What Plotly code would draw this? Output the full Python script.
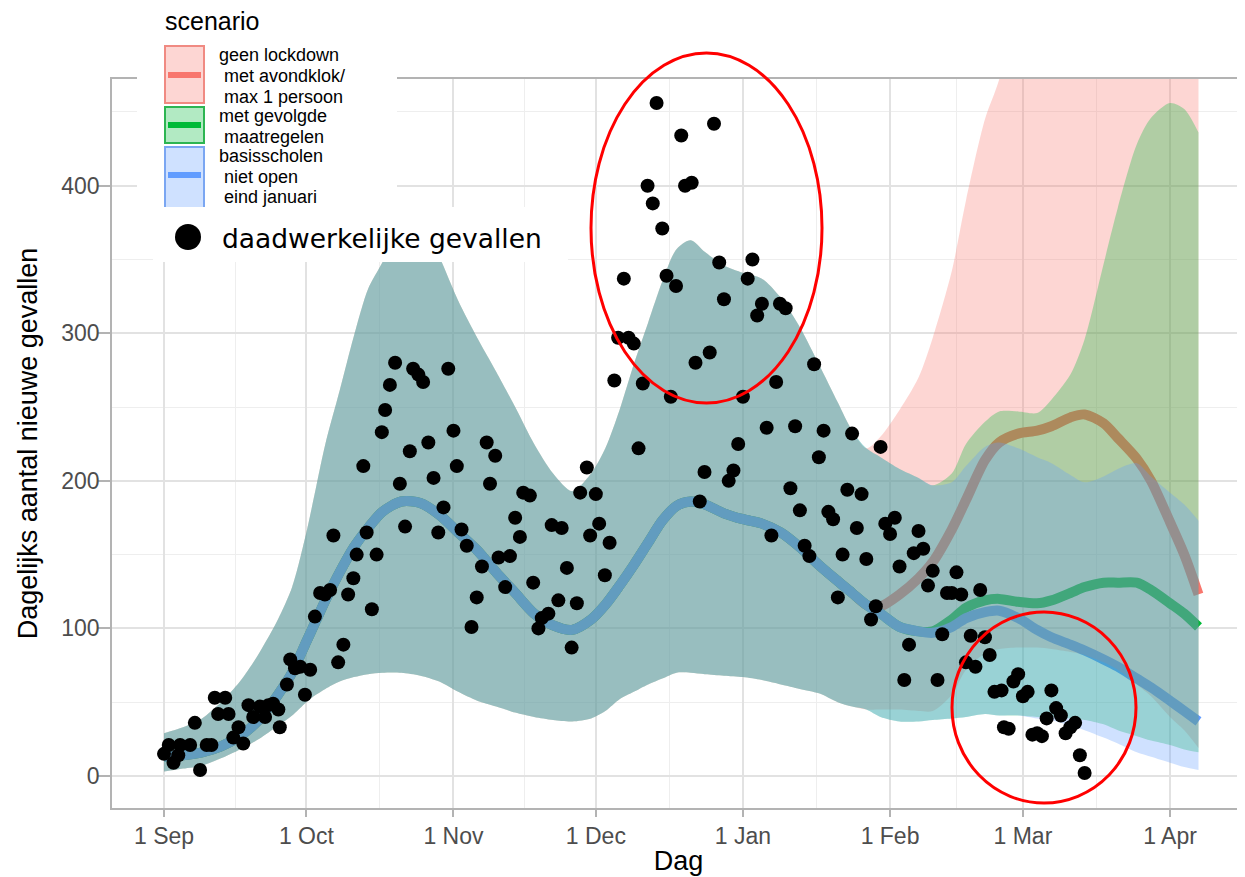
import pandas as pd
import plotly.graph_objects as go

START = pd.Timestamp("2020-09-01")

# ---------------- data (days since 1 Sep 2020) ----------------
# observed daily cases
punt_dag = [0, 1, 2, 3, 3.4, 5.5, 6.5, 7.6, 9, 10, 10.7, 11.4, 12.9, 13.6, 14.6, 15.7, 16.7, 17.8, 18.8, 20.2,
            21.3, 22, 23, 24.1, 24.4, 25.9, 26.6, 27.6, 28.7, 29.7, 30.8, 31.8, 32.9, 33.9, 35, 35.7, 36.7, 37.8,
            38.8, 39.9, 40.6, 42, 42.7, 43.8, 44.8, 45.9, 46.6, 47.6, 48.7, 49.7, 50.8, 51.8, 52.5, 53.6, 54.6,
            55.7, 56.8, 57.8, 58.9, 59.9, 61, 61.7, 62.7, 63.8, 64.8, 65.9, 67, 68, 68.7, 69.8, 70.5, 71.9, 72.9,
            74, 75, 75.7, 77.1, 77.8, 78.9, 79.6, 81, 81.7, 83.1, 83.8, 84.9, 85.9, 87, 87.7, 89.1, 89.8, 91, 91.7,
            92.9, 93.9, 94.9, 95.7, 96.9, 97.9, 99, 100, 100.9, 101.9, 103, 103.8, 105, 105.9, 106.8, 107.9, 109,
            109.8, 111.2, 112, 112.9, 113.9, 115, 115.9, 117, 118, 119, 120, 121, 122, 123, 124, 125, 126, 127,
            128, 129, 129.8, 131, 132, 133, 134, 135, 136, 137, 138, 139, 140, 141, 142, 143, 144, 145, 146, 147,
            148, 149, 150, 151, 152, 153, 154, 155, 156, 157, 158, 159, 160, 161, 162, 163, 164, 165, 166, 167,
            168, 169, 170, 171, 172, 173, 174, 175, 176.5, 177, 178, 179, 180, 181, 182, 183, 184, 185, 186, 187,
            188, 189, 190, 191, 192, 193, 194]
punt_gevallen = [15, 21, 9, 14, 21, 21, 36, 4, 21, 21, 53, 42, 53, 42, 26, 33, 22, 48, 40, 47,
                 40, 48, 49, 45, 33, 62, 79, 73, 74, 55, 72, 108, 124, 123, 126, 163, 77, 89,
                 123, 134, 150, 210, 165, 113, 150, 233, 248, 265, 280, 198, 169, 220, 276, 272, 267,
                 226, 202, 165, 182, 276, 234, 210, 167, 156, 101, 121, 142, 226, 198, 217, 148, 128, 149,
                 175, 162, 192, 190, 131, 100, 107, 110, 170, 119, 168, 141, 87, 117, 192, 209, 163, 191, 171,
                 136, 158, 268, 297, 337, 297, 293, 222, 266, 400, 388, 456, 371, 339, 257, 332, 434,
                 400, 402, 280, 186, 206, 287, 442, 348, 323, 200, 207, 225, 257, 337, 350, 312, 320, 236,
                 163, 267, 320, 317, 195, 237, 180, 156, 149, 279, 216, 234, 179, 174, 121, 150, 194, 232, 168, 191,
                 147, 106, 115, 223, 171, 164, 175, 142, 65, 89, 151, 166, 154, 129, 139, 65, 96, 124, 124, 138,
                 123, 77, 95, 74, 126, 94, 82, 57, 58, 33, 32, 64, 69, 54, 57, 28, 29, 27, 39, 58,
                 46, 41, 29, 33, 36, 14, 2]

# common model history (all scenarios identical)
hist_dag = [0, 4, 8, 12, 16, 20, 24, 27, 30, 32, 34, 37, 40, 43, 46, 50, 54, 58, 62, 66, 70, 74, 78, 82, 86,
            90, 93, 96, 99, 102, 105, 108, 111, 114, 118, 122, 126, 130, 134, 138, 142, 145, 148]
hist_mid = [13, 14, 16, 20, 27, 38, 55, 70, 91, 105, 119, 138, 155, 168, 179, 186, 185, 177, 165, 153, 138,
            124, 110, 102, 99, 106, 116, 129, 143, 158, 173, 183, 186, 184, 178, 174, 171, 165, 155, 143, 132,
            124, 116]
hist_lo = [3, 5, 7, 12, 18, 25, 34, 41, 50, 55, 59, 64, 67, 69, 70, 70, 68, 64, 57, 51, 47, 43, 40, 38, 37,
           39, 44, 52, 57, 62, 66, 70, 70, 69, 68, 67, 65, 62, 59, 56, 50, 47, 45]
hist_hi = [29, 33, 39, 50, 64, 83, 106, 128, 165, 195, 225, 261, 298, 330, 348, 374, 378, 352, 322, 297, 274,
           250, 225, 205, 193, 205, 222, 248, 279, 307, 335, 357, 363, 355, 346, 341, 337, 324, 304, 279, 253,
           234, 222]

# scenario projections
proj_dag = [151, 155, 159, 162, 166, 169, 173, 176, 180, 184, 187, 191, 194, 198, 201, 205, 208, 212, 215, 218]

scenario_namen = ["geen lockdown\n met avondklok/\n max 1 persoon",
                  "met gevolgde\n maatregelen",
                  "basisscholen\n niet open\n eind januari"]

rood_mid = [115, 123, 134, 145, 167, 187, 214, 226, 232, 234, 237, 243, 245, 239, 229, 215, 200, 172, 150, 123]
rood_lo = [45, 45, 44, 44, 55, 72, 83, 86, 87, 87, 86, 84, 82, 77, 72, 62, 54, 40, 31, 19]
rood_hi = [230, 248, 270, 297, 342, 390, 445, 472, 530, 600, 660, 730, 780, 830, 860, 880, 890, 890, 880, 860]

groen_mid = [110, 101, 98, 98, 106, 114, 119, 120, 118, 117, 119, 124, 128, 131, 131, 131, 126, 117, 110, 101]
groen_lo = [40, 37, 37, 38, 39, 40, 42, 41, 41, 40, 40, 39, 38, 35, 31, 27, 24, 21, 18, 16]
groen_hi = [216, 208, 202, 197, 205, 225, 240, 247, 247, 246, 255, 272, 296, 347, 385, 428, 446, 456, 452, 436]

blauw_mid = [110, 101, 98, 97, 101, 107, 111, 112, 107, 99, 94, 89, 85, 79, 74, 66, 60, 51, 44, 37]
blauw_lo = [40, 37, 37, 38, 39, 40, 42, 41, 41, 39, 38, 34, 31, 26, 22, 16, 13, 9, 6, 4]
blauw_hi = [216, 208, 202, 197, 199, 210, 223, 226, 222, 216, 212, 204, 199, 203, 208, 212, 203, 192, 184, 173]

x_tick_vals = ["2020-09-01", "2020-10-01", "2020-11-01", "2020-12-01", "2021-01-01", "2021-02-01",
               "2021-03-01", "2021-04-01"]
x_tick_labels = ["1 Sep", "1 Oct", "1 Nov", "1 Dec", "1 Jan", "1 Feb", "1 Mar", "1 Apr"]
y_tick_vals = [0, 100, 200, 300, 400]


# ---------------- helpers ----------------
def to_date(days):
    return [START + pd.Timedelta(hours=24 * d) for d in days]


FONT = "Liberation Sans, Arial, Helvetica, sans-serif"
OFF = 8                      # page body margin of the html page
L, T, W, H = 112, 79, 1133, 729   # plot area in window pixels
FIG_W, FIG_H = 1245 - OFF, 877 - OFF


def px(x):
    return (x - L) / W


def py(y):
    return (T + H - y) / H


colors = ["#F8766D", "#00BA38", "#619CFF"]
fills = ["rgba(248,118,109,0.3)", "rgba(0,186,56,0.3)", "rgba(97,156,255,0.3)"]
scen = [(rood_mid, rood_lo, rood_hi), (groen_mid, groen_lo, groen_hi), (blauw_mid, blauw_lo, blauw_hi)]

all_days = hist_dag + proj_dag
xd = to_date(all_days)

fig = go.Figure()

# median lines (drawn underneath the ribbons)
for (mid, lo, hi), c in zip(scen, colors):
    fig.add_trace(go.Scatter(x=xd, y=hist_mid + mid, mode="lines",
                             line=dict(color=c, width=10, shape="spline", smoothing=0.8),
                             hoverinfo="skip"))

# ribbons
for (mid, lo, hi), f in zip(scen, fills):
    fig.add_trace(go.Scatter(x=xd, y=hist_lo + lo, mode="lines",
                             line=dict(width=0, shape="spline", smoothing=0.8), hoverinfo="skip"))
    fig.add_trace(go.Scatter(x=xd, y=hist_hi + hi, mode="lines", fill="tonexty", fillcolor=f,
                             line=dict(width=0, shape="spline", smoothing=0.8), hoverinfo="skip"))

# observed points
fig.add_trace(go.Scatter(x=to_date(punt_dag), y=punt_gevallen, mode="markers",
                         marker=dict(color="black", size=14, line=dict(width=0))))

mid_months = ["2020-08-16 12:00", "2020-09-16", "2020-10-16 12:00", "2020-11-16", "2020-12-16 12:00",
              "2021-01-16 12:00", "2021-02-15", "2021-03-16 12:00", "2021-04-16"]

fig.update_layout(
    width=FIG_W, height=FIG_H,
    margin=dict(l=L - OFF, r=FIG_W - (L - OFF) - W, t=T - OFF, b=FIG_H - (T - OFF) - H, autoexpand=False),
    paper_bgcolor="white", plot_bgcolor="white",
    showlegend=False,
    font=dict(family=FONT, color="black"),
    xaxis=dict(
        type="date", automargin=False,
        range=[START - pd.Timedelta(hours=24 * 10.96), START + pd.Timedelta(hours=24 * 227.8)],
        tickmode="array", tickvals=x_tick_vals, ticktext=x_tick_labels,
        tickfont=dict(size=23, color="#4d4d4d", family=FONT),
        ticks="outside", ticklen=7, tickwidth=1.5, tickcolor="#b3b3b3",
        showgrid=True, gridcolor="#e2e2e2", gridwidth=1.5,
        minor=dict(tickmode="array", tickvals=mid_months, showgrid=True, gridcolor="#eeeeee", gridwidth=1),
        showline=True, linecolor="#b3b3b3", linewidth=1.5, mirror=True,
        zeroline=False,
        title=dict(text="Dag", font=dict(size=27, color="black", family=FONT), standoff=3),
    ),
    yaxis=dict(
        automargin=False,
        range=[-21.7, 472.3],
        tickmode="array", tickvals=y_tick_vals,
        tickfont=dict(size=23, color="#4d4d4d", family=FONT),
        ticks="outside", ticklen=12, tickwidth=1.5, tickcolor="#b3b3b3",
        ticklabelstandoff=-6,
        showgrid=True, gridcolor="#e2e2e2", gridwidth=1.5,
        minor=dict(tickmode="array", tickvals=[50, 150, 250, 350, 450], showgrid=True,
                   gridcolor="#eeeeee", gridwidth=1),
        showline=True, linecolor="#b3b3b3", linewidth=1.5, mirror=True,
        zeroline=False,
        title=dict(text="Dagelijks aantal nieuwe gevallen", font=dict(size=27, color="black", family=FONT),
                   standoff=16),
    ),
)

shapes = []
annotations = []

# scenario legend background
shapes.append(dict(type="rect", xref="paper", yref="paper", x0=px(137), x1=px(397), y0=py(207), y1=py(0),
                   fillcolor="white", line=dict(width=0), layer="above"))
key_y = [(46, 103, 75), (107, 143, 125), (147, 212, 175)]
key_border = ["#f08a82", "#2db552", "#7aa6f2"]
for (y0, y1, ym), f, c, b in zip(key_y, fills, colors, key_border):
    shapes.append(dict(type="rect", xref="paper", yref="paper", x0=px(165), x1=px(204), y0=py(y1), y1=py(y0),
                       fillcolor=f, line=dict(color=b, width=2), layer="above"))
    shapes.append(dict(type="line", xref="paper", yref="paper", x0=px(168), x1=px(201), y0=py(ym), y1=py(ym),
                       line=dict(color=c, width=6), layer="above"))

# observed-points legend box
shapes.append(dict(type="rect", xref="paper", yref="paper", x0=px(153), x1=px(568), y0=py(262), y1=py(207),
                   fillcolor="white", line=dict(width=0), layer="above"))
shapes.append(dict(type="circle", xref="paper", yref="paper", x0=px(175), x1=px(201), y0=py(250), y1=py(224),
                   fillcolor="black", line=dict(width=0), layer="above"))

# red highlight ellipses
shapes.append(dict(type="circle", xref="paper", yref="paper", x0=px(591), x1=px(822), y0=py(403), y1=py(53),
                   line=dict(color="#ff0000", width=3), layer="above"))
shapes.append(dict(type="circle", xref="paper", yref="paper", x0=px(952), x1=px(1136), y0=py(803), y1=py(612),
                   line=dict(color="#ff0000", width=3), layer="above"))

annotations.append(dict(text="scenario", xref="paper", yref="paper", x=px(163), y=py(21), xanchor="left",
                        yanchor="middle", showarrow=False, font=dict(size=25, color="black", family=FONT)))
line_y = [[55, 76, 97], [116, 137], [156, 177, 197]]
for name, ys in zip(scenario_namen, line_y):
    for ln, yy in zip(name.split("\n"), ys):
        indent = 5 if ln.startswith(" ") else 0
        annotations.append(dict(text=ln.strip(), xref="paper", yref="paper", x=px(217 + indent), y=py(yy),
                                xanchor="left", yanchor="middle", showarrow=False,
                                font=dict(size=18, color="black", family=FONT)))

annotations.append(dict(text="daadwerkelijke gevallen", xref="paper", yref="paper", x=px(220), y=py(239),
                        xanchor="left", yanchor="middle", showarrow=False,
                        font=dict(size=26.5, color="black", family="DejaVu Sans")))

fig.update_layout(shapes=shapes, annotations=annotations)

fig.write_html("out.html")
